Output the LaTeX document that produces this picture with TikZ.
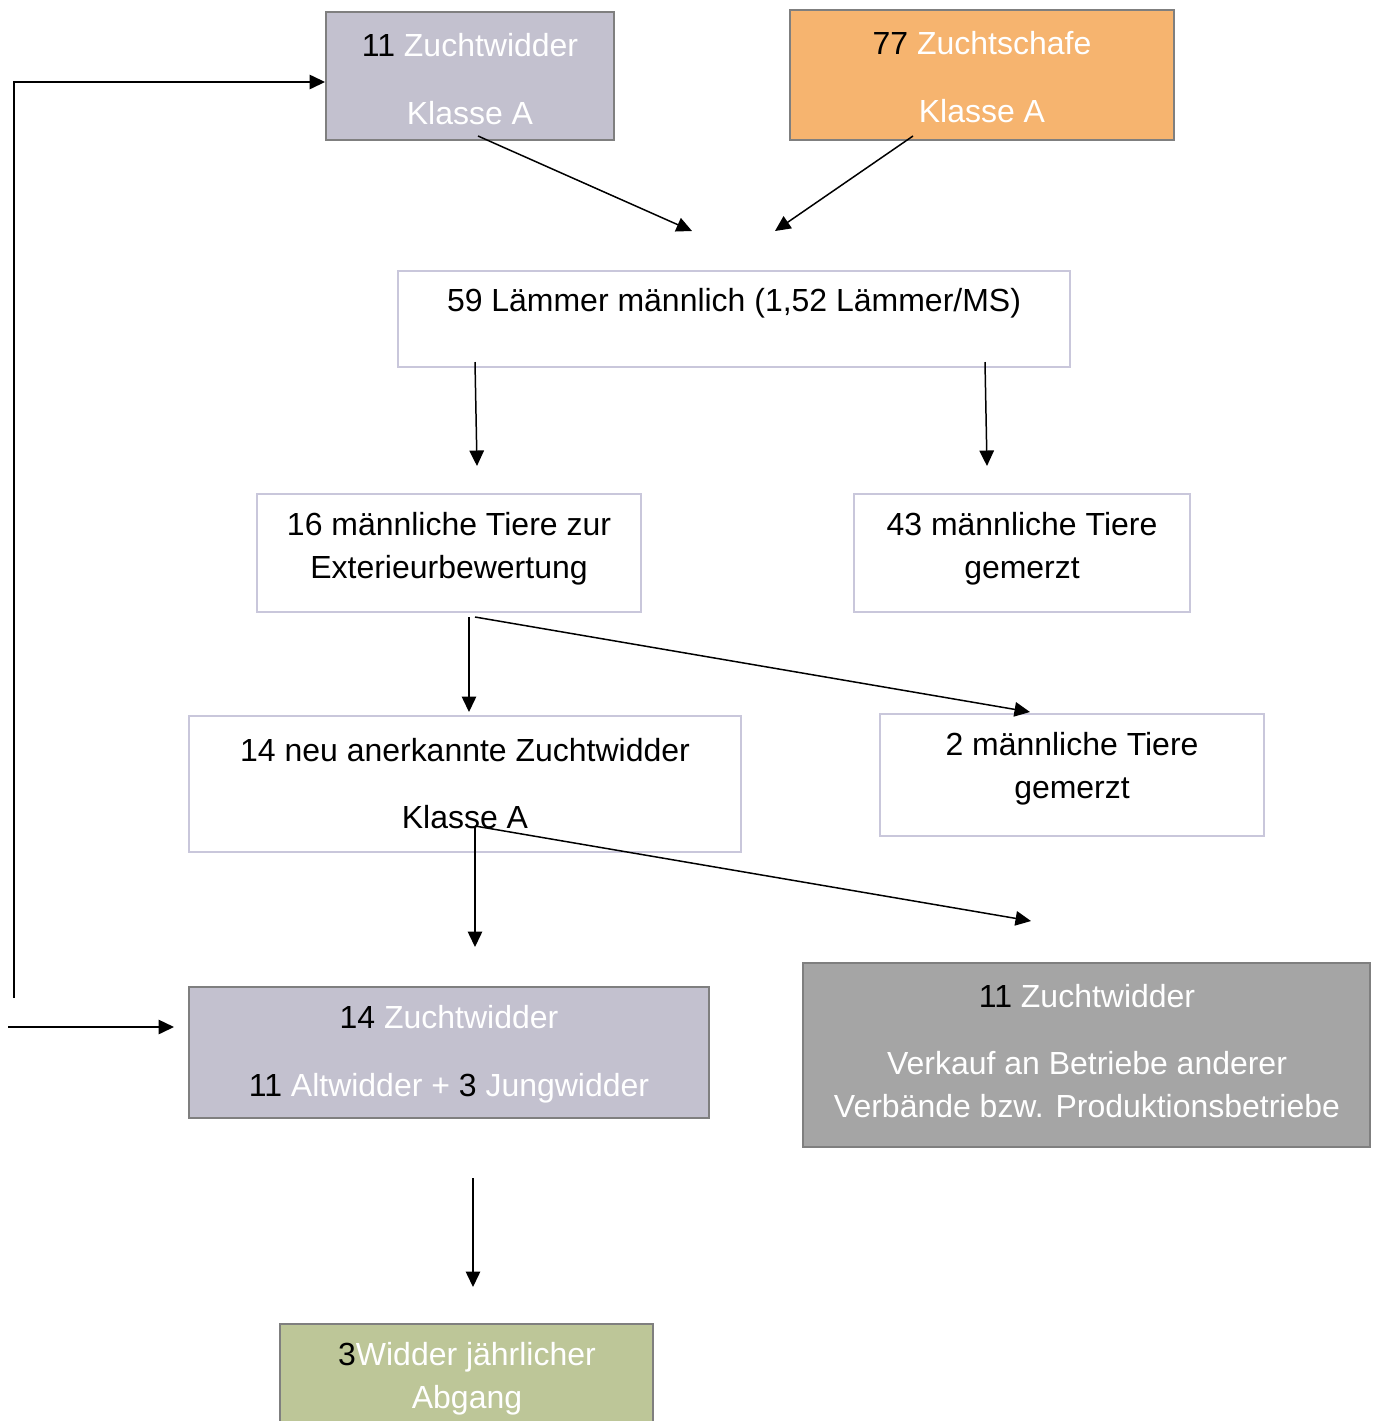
\documentclass[tikz,border=0pt]{standalone}
\usepackage{fontspec}
\setmainfont{Liberation Sans}
\usetikzlibrary{arrows.meta,fit}
\definecolor{lila}{HTML}{C3C1CF}
\definecolor{orange}{HTML}{F6B46F}
\definecolor{grau}{HTML}{A5A5A5}
\definecolor{oliv}{HTML}{BDC698}
\definecolor{rahmen}{HTML}{7F7F7F}
\definecolor{hellrahmen}{HTML}{C9C7DB}
\newcommand{\ws}[1]{\textcolor{white}{#1}}

\begin{document}
\begin{tikzpicture}[x=0.02cm,y=-0.02cm,
    box/.style={draw=rahmen,line width=1.1pt,inner sep=0pt},
    wbox/.style={draw=hellrahmen,line width=0.9pt,inner sep=0pt},
    txt/.style={align=center,inner sep=0pt,font=\fontsize{18.2}{24.4}\selectfont},
    pfeil/.style={-{Triangle[length=0.31cm,width=0.29cm]},line width=0.85pt}]
  \useasboundingbox (0,0) rectangle (1378,1421);

  % Kaesten
  \node[box,fill=lila,fit={(326,12) (614,140)}]    (widder)  {};
  \node[box,fill=orange,fit={(790,10) (1174,140)}] (schafe)  {};
  \node[wbox,fit={(398,271) (1070,367)}]           (laemmer) {};
  \node[wbox,fit={(257,494) (641,612)}]            (bewert)  {};
  \node[wbox,fit={(854,494) (1190,612)}]           (merz)    {};
  \node[wbox,fit={(189,716) (741,852)}]            (neu)     {};
  \node[wbox,fit={(880,714) (1264,836)}]           (merzb)   {};
  \node[box,fill=lila,fit={(189,987) (709,1118)}]  (bestand) {};
  \node[box,fill=grau,fit={(803,963) (1370,1147)}] (verkauf) {};
  \node[box,fill=oliv,fit={(280,1324) (653,1440)}] (abgang)  {};

  % Texte
  \node[txt] (widder-t)  at (470,79)    {11 \ws{Zuchtwidder}\\[14.2pt]\ws{Klasse A}};
  \node[txt] (schafe-t)  at (982,77)    {77 \ws{Zuchtschafe}\\[14.2pt]\ws{Klasse A}};
  \node[txt] (laemmer-t) at (734,303)   {59 Lämmer männlich (1,52 Lämmer/MS)};
  \node[txt] (bewert-t)  at (449,548.5) {16 männliche Tiere zur\\Exterieurbewertung};
  \node[txt] (merz-t)    at (1022,548.5){43 männliche Tiere\\gemerzt};
  \node[txt] (neu-t)     at (465,783.5) {14 neu anerkannte Zuchtwidder\\[14.2pt]Klasse A};
  \node[txt] (merzb-t)   at (1072,768.5){2 männliche Tiere\\gemerzt};
  \node[txt] (bestand-t) at (449,1054.5){14 \ws{Zuchtwidder}\\[14.2pt]11 \ws{Altwidder +} 3 \ws{Jungwidder}};
  \node[txt] (verkauf-t) at (1087,1051) {11 \ws{Zuchtwidder}\\[14.2pt]\ws{Verkauf an Betriebe anderer}\\\ws{Verbände bzw. Produktionsbetriebe}};
  \node[txt] (abgang-t)  at (467,1378.5){3\ws{Widder jährlicher}\\\ws{Abgang}};

  % freie Pfeilenden
  \coordinate (w1) at (478,136);  \coordinate (w2) at (692,231);
  \coordinate (s1) at (913,136);  \coordinate (s2) at (775,231);
  \coordinate (l1) at (475,362);  \coordinate (l2) at (477,466);
  \coordinate (l3) at (985,362);  \coordinate (l4) at (987,466);
  \coordinate (b1) at (469,617);  \coordinate (b2) at (469,712);
  \coordinate (b3) at (475,617);  \coordinate (b4) at (1030,712);
  \coordinate (n1) at (475,826);  \coordinate (n2) at (475,947);
  \coordinate (n3) at (1031,921);
  \coordinate (z1) at (473,1178); \coordinate (z2) at (473,1287);
  \coordinate (r1) at (14,998);
  \coordinate (e1) at (8,1027);   \coordinate (e2) at (174,1027);

  \path[pfeil]
    (w1) edge (w2)
    (s1) edge (s2)
    (l1) edge (l2)
    (l3) edge (l4)
    (b1) edge (b2)
    (b3) edge (b4)
    (n1) edge (n2)
         edge (n3)
    (z1) edge (z2)
    (e1) edge (e2)
  ;
  \draw[pfeil] (r1) |- ([yshift=-0.12cm]widder.west);
\end{tikzpicture}
\end{document}
